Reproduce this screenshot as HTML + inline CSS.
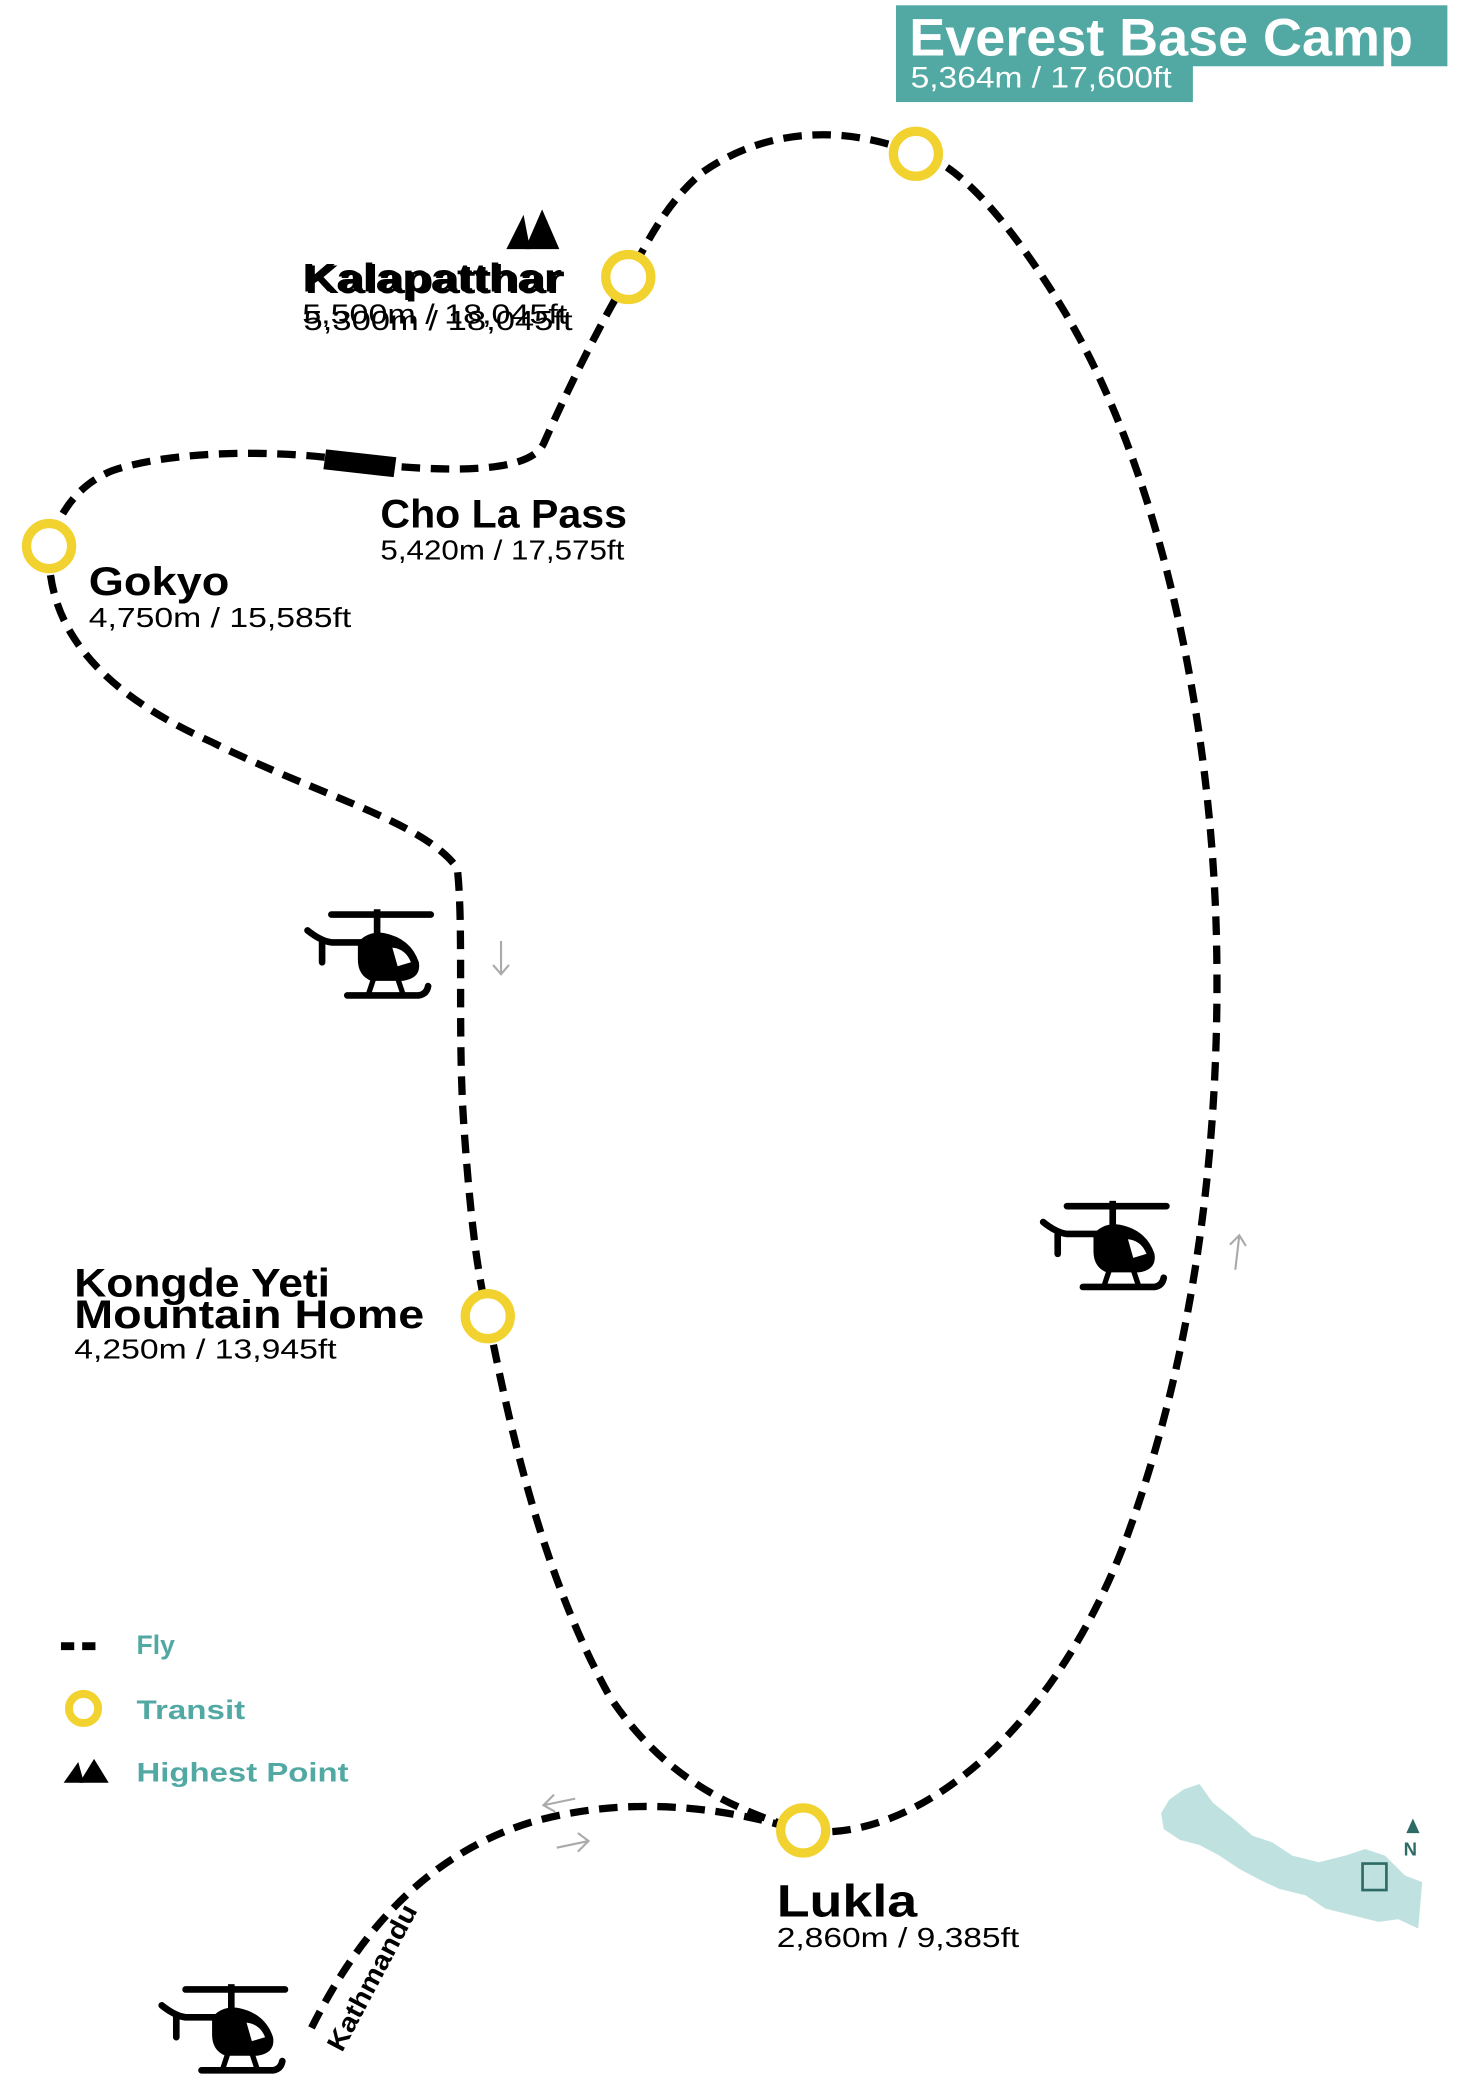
<!DOCTYPE html>
<html><head><meta charset="utf-8"><style>
html,body{margin:0;padding:0;background:#fff;}
svg{display:block;}
text{font-family:"Liberation Sans",sans-serif;}
</style></head><body>
<svg width="1458" height="2080" viewBox="0 0 1100 1569.3" xmlns="http://www.w3.org/2000/svg">
<defs>
<g id="heli">
  <line x1="22" y1="4" x2="97" y2="4" stroke="#000" stroke-width="5" stroke-linecap="round"/>
  <rect x="54" y="0" width="5" height="20" fill="#000"/>
  <path d="M4 16 Q14 24 22 25 L50 25" stroke="#000" stroke-width="5" fill="none" stroke-linecap="round"/>
  <line x1="15" y1="25" x2="15" y2="40" stroke="#000" stroke-width="5" stroke-linecap="round"/>
  <path d="M42 25 Q50 16 62 18 Q82 22 88 40 Q90 52 76 54 L52 54 Q42 50 42 38 Z" fill="#000"/>
  <path d="M68 29 Q78 30 82 40 L72 43 Z" fill="#fff"/>
  <line x1="54" y1="52" x2="50" y2="64" stroke="#000" stroke-width="4"/>
  <line x1="72" y1="52" x2="76" y2="64" stroke="#000" stroke-width="4"/>
  <path d="M34 65 L88 65 Q94 64 95 58" stroke="#000" stroke-width="5" fill="none" stroke-linecap="round"/>
</g>
<g id="mtn">
  <polygon points="0,30 13,4 18,30" fill="#000"/>
  <polygon points="14,30 27,0 40,30" fill="#000"/>
</g>
</defs>

<rect x="676" y="4" width="416" height="46" fill="#52a9a3"/>
<rect x="676" y="48" width="224" height="29" fill="#52a9a3"/>
<text x="686" y="42" font-size="40" font-weight="bold" fill="#fff" textLength="380" lengthAdjust="spacingAndGlyphs">Everest Base Camp</text>
<text x="687" y="66" font-size="22" fill="#fff" textLength="197" lengthAdjust="spacingAndGlyphs">5,364m / 17,600ft</text>

<g fill="none" stroke="#000" stroke-width="5.5" stroke-dasharray="14 8">
<path d="M606 1381 C680 1392 790 1320 850 1160 C905 1010 920 850 918 720 C916 560 880 360 800 230 C760 165 720 120 691 116"/>
<path d="M691 116 C640 95 580 95 530 130 C500 155 485 190 474 209 C455 240 430 290 410 335 C400 355 350 356 300 352"/>
<path d="M245 345 C200 340 130 340 85 355 C60 365 45 385 37 412"/>
<path d="M37 412 C35 470 70 520 160 560 C240 600 320 620 345 655 C350 700 345 780 350 850 C355 920 360 960 368 993"/>
<path d="M368 993 C385 1080 410 1190 460 1280 C500 1340 550 1365 606 1381"/>
<path d="M235 1530 C270 1460 320 1400 400 1375 C470 1355 540 1362 600 1380"/>
</g>
<polygon points="246,339 299,345 297,360 244,354" fill="#000"/>

<g fill="#fff" stroke="#f2d22e" stroke-width="7">
<circle cx="691" cy="116" r="17"/>
<circle cx="474" cy="209" r="17"/>
<circle cx="37" cy="412" r="17"/>
<circle cx="368" cy="993" r="17"/>
<circle cx="606" cy="1381" r="17"/>
</g>

<g stroke="#aaa" stroke-width="1.6" fill="none">
<path d="M378 710 L378 735 M372 728 L378 735 L384 728"/>
<path d="M932 958 L935 932 M928 939 L935 932 L940 940"/>
<path d="M434 1357 L410 1362 M418 1354 L410 1362 L419 1367"/>
<path d="M420 1394 L444 1389 M436 1383 L444 1389 L436 1397"/>
</g>

<use href="#heli" x="228" y="686"/>
<use href="#heli" x="783" y="906"/>
<use href="#heli" x="118" y="1497"/>

<use href="#mtn" x="382" y="158"/>
<text x="228" y="220" font-size="30" font-weight="bold" fill="#000" textLength="196" lengthAdjust="spacingAndGlyphs">Kalapatthar</text>
<text x="230" y="221" font-size="30" font-weight="bold" fill="#000" textLength="196" lengthAdjust="spacingAndGlyphs">Kalapatthar</text>
<text x="228" y="244" font-size="21" fill="#000" textLength="200" lengthAdjust="spacingAndGlyphs">5,500m / 18,045ft</text>
<text x="229" y="249" font-size="21" fill="#000" textLength="203" lengthAdjust="spacingAndGlyphs">5,300m / 18,045ft</text>

<text x="287" y="398" font-size="30" font-weight="bold" fill="#000" textLength="186" lengthAdjust="spacingAndGlyphs">Cho La Pass</text>
<text x="287" y="422" font-size="21" fill="#000" textLength="184" lengthAdjust="spacingAndGlyphs">5,420m / 17,575ft</text>

<text x="67" y="449" font-size="30" font-weight="bold" fill="#000" textLength="106" lengthAdjust="spacingAndGlyphs">Gokyo</text>
<text x="67" y="473" font-size="21" fill="#000" textLength="198" lengthAdjust="spacingAndGlyphs">4,750m / 15,585ft</text>

<text x="56" y="978" font-size="30" font-weight="bold" fill="#000" textLength="193" lengthAdjust="spacingAndGlyphs">Kongde Yeti</text>
<text x="56" y="1002" font-size="30" font-weight="bold" fill="#000" textLength="264" lengthAdjust="spacingAndGlyphs">Mountain Home</text>
<text x="56" y="1025" font-size="21" fill="#000" textLength="198" lengthAdjust="spacingAndGlyphs">4,250m / 13,945ft</text>

<text x="586" y="1446" font-size="34" font-weight="bold" fill="#000" textLength="106" lengthAdjust="spacingAndGlyphs">Lukla</text>
<text x="586" y="1469" font-size="21" fill="#000" textLength="183" lengthAdjust="spacingAndGlyphs">2,860m / 9,385ft</text>

<text x="0" y="0" font-size="20" font-weight="bold" fill="#000" transform="translate(258,1549) rotate(-62)" textLength="122" lengthAdjust="spacingAndGlyphs">Kathmandu</text>

<g>
<line x1="46" y1="1242" x2="78" y2="1242" stroke="#000" stroke-width="6" stroke-dasharray="10 6"/>
<text x="103" y="1248" font-size="20" font-weight="bold" fill="#52a9a3">Fly</text>
<circle cx="63" cy="1289" r="11" fill="#fff" stroke="#f2d22e" stroke-width="6"/>
<text x="103" y="1297" font-size="20" font-weight="bold" fill="#52a9a3" textLength="82" lengthAdjust="spacingAndGlyphs">Transit</text>
<g transform="translate(48,1327) scale(0.85,0.6)"><use href="#mtn"/></g>
<text x="103" y="1344" font-size="20" font-weight="bold" fill="#52a9a3" textLength="160" lengthAdjust="spacingAndGlyphs">Highest Point</text>
</g>

<path d="M882 1358 L893 1350 L905 1346 L915 1360 L930 1372 L945 1385 L960 1390 L975 1400 L995 1405 L1015 1400 L1030 1395 L1045 1400 L1060 1415 L1073 1420 L1070 1455 L1055 1448 L1040 1450 L1020 1445 L1000 1440 L985 1430 L965 1425 L950 1418 L935 1410 L920 1400 L905 1392 L890 1388 L878 1380 L876 1368 Z" fill="#bfe2e0"/>
<rect x="1028" y="1406" width="18" height="20" fill="none" stroke="#2e6b66" stroke-width="2"/>
<polygon points="1066,1372 1061,1383 1071,1383" fill="#2e6b66"/>
<text x="1059" y="1400" font-size="14" font-weight="bold" fill="#2e6b66">N</text>
</svg>
</body></html>
